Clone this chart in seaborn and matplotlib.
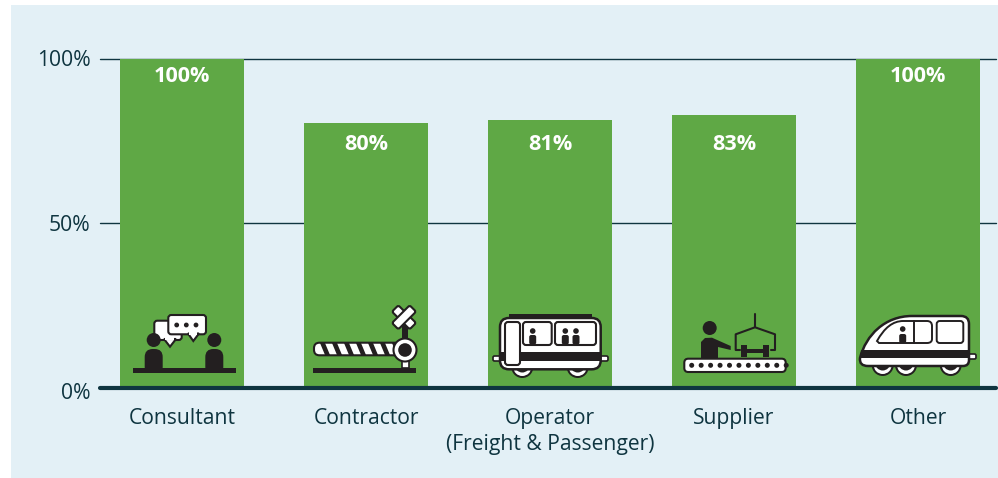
#!/usr/bin/env python3
"""Share of respondents by organisation type, with the small icon on each bar."""
import matplotlib
matplotlib.use('Agg')
import matplotlib.pyplot as plt
import pandas as pd
import seaborn as sns
from matplotlib.patches import Circle, FancyBboxPatch, PathPatch, Polygon, Rectangle
from matplotlib.path import Path
from matplotlib.transforms import Affine2D, ScaledTranslation

roles = ['Consultant', 'Contractor', 'Operator\n(Freight & Passenger)', 'Supplier', 'Other']
shares = [100, 80.4, 81.3, 82.8, 100]
y_ticks = [0, 50, 100]
y_tick_labels = ['0%', '50%', '100%']

PANEL = '#e3f0f6'
GREEN = '#5fa845'
DARK = '#0f3540'
INK = '#231f20'
W, H = 998, 478


def box(ax, x0, y0, x1, y1, r=0.0, fc='white', ec=INK, lw=1.5, z=3):
    if r:
        shape = FancyBboxPatch((x0 + r, y0 + r), x1 - x0 - 2 * r, y1 - y0 - 2 * r,
                               boxstyle=f'round,pad={r},rounding_size={r}', fc=fc, ec=ec, lw=lw, zorder=z)
    else:
        shape = Rectangle((x0, y0), x1 - x0, y1 - y0, fc=fc, ec=ec, lw=lw, zorder=z)
    ax.add_patch(shape)
    return shape


def dot(ax, x, y, r, fc=INK, ec='none', lw=0, z=4):
    ax.add_patch(Circle((x, y), r, fc=fc, ec=ec, lw=lw, zorder=z))


def seated(ax, x, head_y, top, bottom):
    dot(ax, x, head_y, 2.8)
    box(ax, x - 3.5, top, x + 3.5, bottom, r=2, fc=INK, ec='none', lw=0, z=4)


def wheel(ax, x, y, r):
    ax.add_patch(Circle((x, y), r, fc=INK, ec='none', zorder=2))
    ax.add_patch(Circle((x, y), r - 2, fc='white', ec='none', zorder=2.1))
    ax.add_patch(Circle((x, y - 2), r - 3.5, fc=INK, ec='none', zorder=2.2))


def consultant_icon(ax):
    for x in (153.7, 214.3):
        dot(ax, x, 340, 7)
        box(ax, x - 9, 349, x + 9, 375, r=8, fc=INK, ec='none', lw=0, z=2.5)
    ax.add_patch(Rectangle((133, 368), 103, 4.7, fc=INK, ec='none', zorder=2.6))
    ax.add_patch(Rectangle((140, 372.7), 90, 4, fc=GREEN, ec='none', zorder=2.7))
    box(ax, 154.3, 320.7, 181.7, 340, r=3)
    ax.add_patch(Polygon([(164, 339), (176, 339), (170, 346.7)], fc='white', ec=INK, lw=1.5, zorder=3))
    ax.add_patch(Rectangle((165.5, 337), 9, 3, fc='white', ec='none', zorder=3.1))
    box(ax, 168.3, 315, 206, 334.3, r=3, z=3.2)
    ax.add_patch(Polygon([(188, 333.5), (199, 333.5), (193.3, 341)], fc='white', ec=INK, lw=1.5, zorder=3.2))
    ax.add_patch(Rectangle((189.5, 332), 8, 3, fc='white', ec='none', zorder=3.3))
    for x in (176.7, 186.3, 196):
        dot(ax, x, 325, 2.4)


def contractor_icon(ax):
    box(ax, 313, 368, 416, 372.7, fc=INK, ec='none', lw=0)
    box(ax, 401.7, 358, 409, 368, fc='white', ec=INK, lw=1.2)
    box(ax, 402, 325, 408, 342, fc=INK, ec='none', lw=0, z=2.5)
    bar = box(ax, 314, 342.7, 402, 355.3, r=5.5)
    for x in range(320, 398, 12):
        stripe = Polygon([(x, 343), (x + 5, 343), (x + 10, 355), (x + 5, 355)], fc=INK, ec='none', zorder=3.1)
        stripe.set_clip_path(bar)
        ax.add_patch(stripe)
    dot(ax, 405, 350, 11.5, fc='white', ec=INK, lw=1.5)
    dot(ax, 405, 350, 6.8, z=4.1)
    for angle in (45, -45):
        arm = FancyBboxPatch((-10.5, -2.5), 21, 5, boxstyle='round,pad=2,rounding_size=2',
                             fc='white', ec=INK, lw=1.5, zorder=3.5 - angle / 1000)
        arm.set_transform(Affine2D().rotate_deg(angle).translate(404, 317.3) + ax.transData)
        ax.add_patch(arm)


def operator_icon(ax):
    box(ax, 493, 356, 608, 361, r=1.5, lw=1.2, z=1.8)
    wheel(ax, 522.3, 367, 11)
    wheel(ax, 577.7, 367, 11)
    box(ax, 509.3, 314, 592, 319, fc=INK, ec='none', lw=0)
    box(ax, 500, 318, 600.7, 369.3, r=9, ec=INK, lw=1.8)
    box(ax, 500.7, 352, 600, 360.7, fc=INK, ec='none', lw=0, z=3.1)
    box(ax, 505, 322, 520, 365, r=3, ec=INK, lw=1.5, z=3.3)
    box(ax, 523, 322, 551.7, 345, r=3)
    box(ax, 555, 322, 596, 345, r=3)
    for x in (532.7, 565.3, 576):
        seated(ax, x, 331, 335, 344.5)


def supplier_icon(ax):
    box(ax, 684.3, 358.7, 785.7, 372, r=4)
    for i in range(11):
        dot(ax, 691.7 + i * 9.45, 365.3, 2.5)
    dot(ax, 709.7, 328, 7)
    ax.add_patch(Polygon([(701, 359), (701, 342), (705, 338), (712, 337.7), (730.7, 346), (730.7, 350),
                          (718, 347), (718, 359)], fc=INK, ec='none', zorder=4))
    ax.plot([755, 755], [314, 327.3], color=INK, lw=1.5, zorder=4)
    ax.plot([740, 735.7, 735.7, 755, 775, 775, 771], [350, 350, 334.3, 327.3, 334.3, 350, 350],
            color=INK, lw=1.5, zorder=4)
    box(ax, 741, 345, 746.7, 356.7, fc=INK, ec='none', lw=0)
    box(ax, 763.3, 345, 769, 356.7, fc=INK, ec='none', lw=0)
    box(ax, 746, 349, 764, 353, fc=INK, ec='none', lw=0)


def other_icon(ax):
    box(ax, 966, 354, 976, 359, r=1.5, lw=1.2, z=1.8)
    for x in (882.7, 906, 950.7):
        wheel(ax, x, 365, 11)
    codes = [Path.MOVETO, Path.CURVE4, Path.CURVE4, Path.CURVE4, Path.LINETO, Path.CURVE3, Path.CURVE3,
             Path.LINETO, Path.CURVE3, Path.CURVE3, Path.LINETO, Path.CURVE3, Path.CURVE3, Path.CLOSEPOLY]
    verts = [(860, 358), (866, 335), (885, 316), (912, 316), (961, 316), (969, 316), (969, 324),
             (969, 360), (969, 366), (963, 366), (868, 366), (859, 366), (860, 358), (860, 358)]
    ax.add_patch(PathPatch(Path(verts, codes), fc='white', ec=INK, lw=1.8, zorder=3))
    stripe = Polygon([(861, 350), (968.5, 350), (968.5, 358.3), (860, 358.3)], fc=INK, ec='none', zorder=3.1)
    ax.add_patch(stripe)
    win_codes = [Path.MOVETO, Path.CURVE3, Path.CURVE3, Path.LINETO, Path.CURVE3, Path.CURVE3,
                 Path.LINETO, Path.CURVE3, Path.CURVE3, Path.LINETO, Path.CLOSEPOLY]
    win_verts = [(877, 341), (888, 321), (903, 321), (927, 321), (932, 321), (932, 326),
                 (932, 339), (932, 343), (927, 343), (879, 343), (877, 341)]
    ax.add_patch(PathPatch(Path(win_verts, win_codes), fc='white', ec=INK, lw=1.4, zorder=3.2))
    ax.plot([914, 914], [321, 343], color=INK, lw=1.4, zorder=3.3)
    box(ax, 936.7, 321, 963.3, 343, r=3, lw=1.4, z=3.2)
    dot(ax, 902.7, 329, 2.8)
    box(ax, 899.2, 334, 906.2, 343, r=2, fc=INK, ec='none', lw=0, z=4)


def main():
    sns.set_theme(style='white')
    plt.rcParams['font.family'] = ['Open Sans', 'DejaVu Sans']

    fig = plt.figure(figsize=(W / 100, H / 100), dpi=100, facecolor='white')
    fig.add_artist(Rectangle((11 / W, 0), (W - 11) / W, (H - 5) / H, transform=fig.transFigure,
                             fc=PANEL, ec='none', zorder=-5))
    ax = fig.add_axes([100 / W, (H - 388) / H, 896 / W, 329.5 / H])
    ax.patch.set_alpha(0)

    df = pd.DataFrame({'role': roles, 'share': shares})
    sns.barplot(data=df, x='role', y='share', color=GREEN, saturation=1, width=0.674,
                edgecolor='none', linewidth=0, ax=ax, zorder=2)
    ax.set_xlim(-0.446, 4.424)
    ax.set_ylim(0, 100)
    ax.set_xlabel('')
    ax.set_ylabel('')
    sns.despine(ax=ax, left=True, top=True, right=True, bottom=True)

    ax.set_yticks(y_ticks, y_tick_labels)
    ax.tick_params(axis='y', length=0, pad=7, labelsize=15.2, labelcolor=DARK)
    ax.tick_params(axis='x', length=0, pad=14.5, labelsize=15.2, labelcolor=DARK)
    for label in ax.get_xticklabels():
        label.set_linespacing(1.32)
        label.set_verticalalignment('top')
    for tick in y_ticks[1:]:
        ax.axhline(tick, color=DARK, lw=1, zorder=1, clip_on=False)
    ax.axhline(0, color=DARK, lw=3, zorder=3, clip_on=False)
    # the 0% label sits slightly under its line in the original
    zero = ax.get_yticklabels()[0]
    zero.set_transform(zero.get_transform() + ScaledTranslation(0, -3 / 100, fig.dpi_scale_trans))

    for i, share in enumerate(shares):
        y = 94.6 if share >= 100 else 74
        ax.text(i, y, f'{share:.0f}%', color='white', ha='center', va='center',
                fontsize=15.6, fontweight='bold', zorder=4)

    # icons are drawn on a pixel-sized overlay, y runs downward like the picture
    over = fig.add_axes([0, 0, 1, 1], zorder=5)
    over.set_xlim(0, W)
    over.set_ylim(H, 0)
    over.axis('off')
    for draw in (consultant_icon, contractor_icon, operator_icon, supplier_icon, other_icon):
        draw(over)

    fig.savefig('out.png', dpi=100, facecolor='white')


if __name__ == '__main__':
    main()
